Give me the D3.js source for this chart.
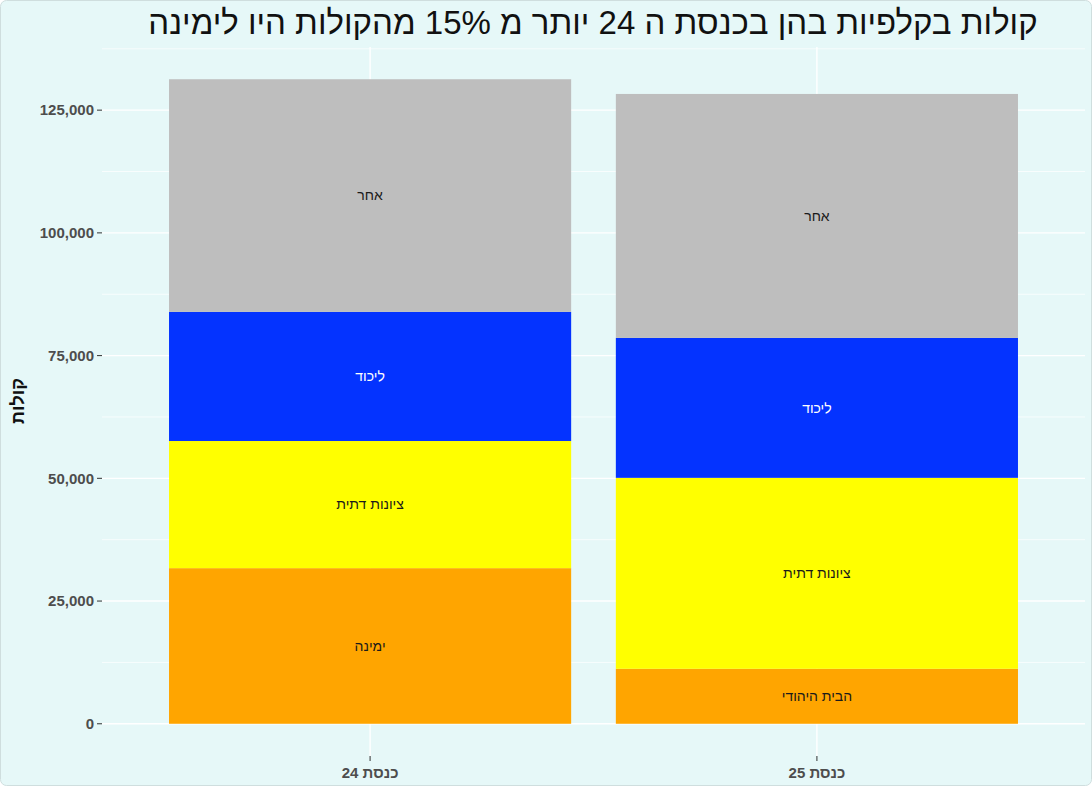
<!DOCTYPE html>
<html><head><meta charset="utf-8">
<script src="https://cdn.jsdelivr.net/npm/d3@7"></script>
<style>body{margin:0;background:#fff}svg{display:block}</style>
</head><body><svg id="c" width="1092" height="786"></svg>
<script>
const categories = ["כנסת 24", "כנסת 25"];
const parties = ["bottom", "ציונות דתית", "ליכוד", "אחר"];
const bottomLabels = ["ימינה", "הבית היהודי"];
const values = {
  "bottom": [31700, 11200],
  "ציונות דתית": [25900, 38900],
  "ליכוד": [26300, 28500],
  "אחר": [47400, 49700]
};
const colors = {"bottom":"#ffa500","ציונות דתית":"#ffff00","ליכוד":"#0433ff","אחר":"#bebebe"};
const textColors = {"bottom":"#1a1a1a","ציונות דתית":"#1a1a1a","ליכוד":"#ffffff","אחר":"#1a1a1a"};
const yTicks = [0, 25000, 50000, 75000, 100000, 125000];

const svg = d3.select("#c");
svg.append("rect").attr("x",0.5).attr("y",0.5).attr("width",1091).attr("height",785).attr("rx",6)
  .attr("fill","#e6f8f8").attr("stroke","#cfdede");
const L=102, R=1085, T=47, B=756;
const totals = categories.map((c,i)=>parties.reduce((s,p)=>s+values[p][i],0));
const maxT = d3.max(totals);
const y = d3.scaleLinear().domain([-0.05*maxT, maxT*1.05]).range([B,T]);
const x = d3.scaleBand().domain(categories).range([L,R]).paddingInner(0.1).paddingOuter(0.15);
const g = svg.append("g");
const minor = d3.range(12500, maxT*1.05, 25000);
g.selectAll(".mn").data(minor).join("line").attr("x1",L).attr("x2",R).attr("y1",d=>y(d)).attr("y2",d=>y(d)).attr("stroke","#fff").attr("stroke-width",0.7);
g.selectAll(".mj").data(yTicks).join("line").attr("x1",L).attr("x2",R).attr("y1",d=>y(d)).attr("y2",d=>y(d)).attr("stroke","#fff").attr("stroke-width",1.4);
g.selectAll(".vx").data(categories).join("line").attr("x1",d=>x(d)+x.bandwidth()/2).attr("x2",d=>x(d)+x.bandwidth()/2).attr("y1",T).attr("y2",B).attr("stroke","#fff").attr("stroke-width",1.4);
categories.forEach((c,i)=>{
  let acc=0;
  parties.forEach(p=>{
    const v=values[p][i], y0=acc, y1=acc+v; acc=y1;
    g.append("rect").attr("x",x(c)).attr("width",x.bandwidth()).attr("y",y(y1)).attr("height",y(y0)-y(y1)).attr("fill",colors[p]);
    g.append("text").attr("x",x(c)+x.bandwidth()/2).attr("y",y((y0+y1)/2)).attr("dy","0.35em").attr("text-anchor","middle")
      .attr("font-family","Liberation Sans, Arial").attr("font-size",14).attr("fill",textColors[p])
      .text(p==="bottom"?bottomLabels[i]:p);
  });
});
const ax = svg.append("g").attr("font-family","Liberation Sans, Arial").attr("font-weight","bold").attr("font-size",15).attr("fill","#4d4d4d");
yTicks.forEach(t=>{
  ax.append("line").attr("x1",L-5).attr("x2",L).attr("y1",y(t)).attr("y2",y(t)).attr("stroke","#333");
  ax.append("text").attr("x",L-8).attr("y",y(t)).attr("dy","0.35em").attr("text-anchor","end").text(d3.format(",")(t));
});
categories.forEach(c=>{
  const cx=x(c)+x.bandwidth()/2;
  ax.append("line").attr("x1",cx).attr("x2",cx).attr("y1",B).attr("y2",B+5).attr("stroke","#333");
  ax.append("text").attr("x",cx).attr("y",B+22).attr("text-anchor","middle").text(c);
});
svg.append("text").attr("transform","translate(24,401) rotate(-90)").attr("text-anchor","middle")
  .attr("font-family","Liberation Sans, Arial").attr("font-weight","bold").attr("font-size",18).attr("fill","#111").text("קולות");
svg.append("text").attr("x",593).attr("y",34).attr("text-anchor","middle")
  .attr("font-family","Liberation Sans, Arial").attr("font-size",33).attr("fill","#111")
  .text("קולות בקלפיות בהן בכנסת ה 24 יותר מ 15% מהקולות היו לימינה");
</script></body></html>
